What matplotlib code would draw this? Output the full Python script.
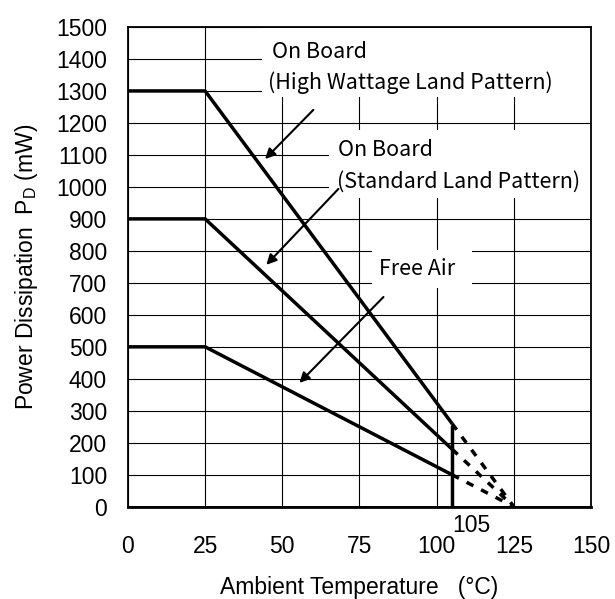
import matplotlib.pyplot as plt
from matplotlib.patches import Rectangle

plt.rcParams['font.family'] = ['Liberation Sans', 'DejaVu Sans']

# derating curves (temperature in degC, power in mW)
temp_solid = [0, 25, 105]
temp_dash = [105, 125]
high_watt = [1300, 1300, 260]
high_watt_dash = [260, 0]
standard = [900, 900, 180]
standard_dash = [180, 0]
free_air = [500, 500, 100]
free_air_dash = [100, 0]

x_ticks = [0, 25, 50, 75, 100, 125, 150]
y_ticks = list(range(0, 1501, 100))

fig = plt.figure(figsize=(6.15, 5.99), dpi=100)
ax = fig.add_axes([0.208, 0.154, 0.753, 0.801])

ax.set_xlim(0, 150)
ax.set_ylim(0, 1500)
ax.set_xticks(x_ticks)
ax.set_yticks(y_ticks)
ax.tick_params(length=0, labelsize=16.5)
ax.tick_params(axis='x', pad=20)
ax.tick_params(axis='y', pad=15)
ax.set_axisbelow(True)
ax.grid(True, color='black', linewidth=0.8)
for s in ax.spines.values():
    s.set_linewidth(1.3)
    s.set_zorder(7)

# white areas behind the labels (they hide the grid)
for x0, y0, x1, y1 in [(43.5, 1281, 150, 1498), (65, 966, 150, 1178), (79, 684, 111.5, 803)]:
    ax.add_patch(Rectangle((x0, y0), x1 - x0, y1 - y0, facecolor='white', edgecolor='none', zorder=1))

lw = 2.5
for ys, yd in [(high_watt, high_watt_dash), (standard, standard_dash), (free_air, free_air_dash)]:
    ax.plot(temp_solid, ys, color='black', lw=lw, solid_capstyle='butt', zorder=5)
    ax.plot(temp_dash, yd, color='black', lw=lw, ls=(0, (2.2, 2.5)), zorder=5)
# vertical limit at 105
ax.plot([105, 105], [0, 250], color='black', lw=lw, zorder=5)
ax.plot([0, 150], [0, 0], color='black', lw=2, zorder=6, clip_on=False)

jp = ['Noto Sans CJK JP', 'DejaVu Sans']
ax.text(46.8, 1422, 'On Board', fontsize=15.5, family=jp, va='center', zorder=4)
ax.text(45.5, 1325, '(High Wattage Land Pattern)', fontsize=15.5, family=jp, va='center', zorder=4)
ax.text(67.9, 1116, 'On Board', fontsize=15.5, family=jp, va='center', zorder=4)
ax.text(67.6, 1016, '(Standard Land Pattern)', fontsize=15.5, family=jp, va='center', zorder=4)
ax.text(81.2, 742, 'Free Air', fontsize=15.5, family=jp, va='center', zorder=4)

arrow = dict(arrowstyle='-|>', color='black', lw=1.5, mutation_scale=15)
ax.annotate('', xy=(43.8, 1081), xytext=(60.7, 1247), arrowprops=arrow, zorder=6)
ax.annotate('', xy=(44.2, 750), xytext=(68.8, 1000), arrowprops=arrow, zorder=6)
ax.annotate('', xy=(54.9, 381), xytext=(83.4, 662), arrowprops=arrow, zorder=6)

ax.text(105, -22, '105', fontsize=16.5, ha='left', va='top')

ax.set_xlabel('Ambient Temperature   (°C)', fontsize=16.5)
ax.xaxis.set_label_coords(0.5, -0.145)
ax.set_ylabel(r'Power Dissipation  P$_{\mathregular{D}}$ (mW)', fontsize=16.5)
ax.yaxis.set_label_coords(-0.19, 0.5)

fig.savefig('out.png', dpi=100)
